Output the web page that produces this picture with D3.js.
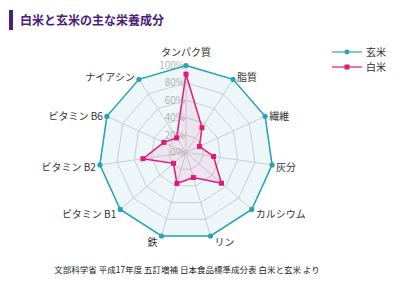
<!DOCTYPE html>
<html>
<head>
<meta charset="utf-8">
<script src="https://cdn.jsdelivr.net/npm/d3@7"></script>
<style>
  body { margin: 0; background: #fff; }
  svg { display: block; font-family: "Noto Sans CJK JP", "Noto Sans", sans-serif; }
</style>
</head>
<body>
<div id="chart"></div>
<script>
var width = 400;
var height = 289;

var axes = ["タンパク質", "脂質", "繊維", "灰分", "カルシウム", "リン", "鉄", "ビタミン B1", "ビタミン B2", "ビタミン B6", "ナイアシン"];
var genmai = [100, 100, 100, 100, 100, 100, 100, 100, 100, 100, 100];
var hakumai = [90, 34, 17, 32, 54, 30, 37, 19, 50, 28, 20];
var ticks = [0, 20, 40, 60, 80, 100];
var seriesNames = ["玄米", "白米"];

var cx = 186, cy = 152.5, R = 87;
var teal = "#27a3b9";
var pink = "#e0197b";

var svg = d3.select("#chart")
  .append("svg")
  .attr("width", width)
  .attr("height", height);

// title
svg.append("rect")
  .attr("x", 9).attr("y", 10)
  .attr("width", 4).attr("height", 20)
  .attr("fill", "#4b1d7d");
svg.append("text")
  .attr("x", 20).attr("y", 25)
  .attr("font-size", "12px")
  .attr("font-weight", "bold")
  .attr("fill", "#4b1d7d")
  .text("白米と玄米の主な栄養成分");

var r = d3.scaleLinear().domain([0, 100]).range([0, R]);
var angle = d3.scaleLinear().domain([0, axes.length]).range([0, 2 * Math.PI]);

var g = svg.append("g").attr("transform", "translate(" + cx + "," + cy + ")");

function px(i, v) { return r(v) * Math.sin(angle(i)); }
function py(i, v) { return -r(v) * Math.cos(angle(i)); }

var radial = d3.lineRadial()
  .angle(function(d, i) { return angle(i); })
  .radius(function(d) { return r(d); })
  .curve(d3.curveLinearClosed);

// 玄米 fill under grid
g.append("path")
  .attr("d", radial(genmai))
  .attr("fill", "#edf7f9");

// grid rings
ticks.slice(1).forEach(function(t) {
  g.append("path")
    .attr("d", radial(axes.map(function() { return t; })))
    .attr("fill", "none")
    .attr("stroke", "#c9cfd1")
    .attr("stroke-width", 1);
});

// spokes
g.selectAll(".spoke")
  .data(axes)
  .enter()
  .append("line")
    .attr("x1", 0).attr("y1", 0)
    .attr("x2", function(d, i) { return px(i, 100); })
    .attr("y2", function(d, i) { return py(i, 100); })
    .attr("stroke", "#c9cfd1")
    .attr("stroke-width", 1);

// 白米 area
g.append("path")
  .attr("d", radial(hakumai))
  .attr("fill", "rgba(224,25,123,0.08)")
  .attr("stroke", pink)
  .attr("stroke-width", 1.5);

// tick labels
g.selectAll(".tick")
  .data(ticks)
  .enter()
  .append("text")
    .attr("x", -1)
    .attr("y", function(d) { return -r(d); })
    .attr("dy", "0.35em")
    .attr("text-anchor", "end")
    .attr("font-size", "10px")
    .attr("fill", "rgba(150,150,150,0.75)")
    .text(function(d) { return d + "%"; });

// 玄米 outline
g.append("path")
  .attr("d", radial(genmai))
  .attr("fill", "none")
  .attr("stroke", teal)
  .attr("stroke-width", 1.5);

g.selectAll(".gm")
  .data(genmai)
  .enter()
  .append("circle")
    .attr("cx", function(d, i) { return px(i, d); })
    .attr("cy", function(d, i) { return py(i, d); })
    .attr("r", 2.6)
    .attr("fill", teal);

g.selectAll(".hm")
  .data(hakumai)
  .enter()
  .append("rect")
    .attr("x", function(d, i) { return px(i, d) - 2.5; })
    .attr("y", function(d, i) { return py(i, d) - 2.5; })
    .attr("width", 5)
    .attr("height", 5)
    .attr("fill", pink);

// axis labels
g.selectAll(".lab")
  .data(axes)
  .enter()
  .append("text")
    .attr("x", function(d, i) {
      var s = Math.sin(angle(i));
      if (Math.abs(s) < 0.1) return px(i, 100);
      return px(i, 100) + (s > 0 ? 4 : -4);
    })
    .attr("y", function(d, i) {
      var c = Math.cos(angle(i));
      if (c > 0.99) return py(i, 100) - 10;
      return py(i, 100) + 2 - 5 * c + 3.5;
    })
    .attr("text-anchor", function(d, i) {
      var s = Math.sin(angle(i));
      if (Math.abs(s) < 0.1) return "middle";
      return s > 0 ? "start" : "end";
    })
    .attr("font-size", "10px")
    .attr("fill", "#333")
    .text(function(d) { return d; });

// legend
var legend = svg.selectAll(".legend")
  .data(seriesNames)
  .enter()
  .append("g")
    .attr("transform", function(d, i) { return "translate(332," + (52 + i * 15) + ")"; });

legend.append("line")
  .attr("x1", 0).attr("x2", 30)
  .attr("y1", 0).attr("y2", 0)
  .attr("stroke", function(d, i) { return i == 0 ? teal : pink; })
  .attr("stroke-width", 1.2);

legend.append("rect")
  .attr("x", function(d, i) { return i == 0 ? 12.6 : 12.5; })
  .attr("y", function(d, i) { return i == 0 ? -2.4 : -2.5; })
  .attr("width", function(d, i) { return i == 0 ? 4.8 : 5; })
  .attr("height", function(d, i) { return i == 0 ? 4.8 : 5; })
  .attr("rx", function(d, i) { return i == 0 ? 2.4 : 0; })
  .attr("fill", function(d, i) { return i == 0 ? teal : pink; });

legend.append("text")
  .attr("x", 34)
  .attr("dy", "0.35em")
  .attr("font-size", "10px")
  .attr("fill", "#333")
  .text(function(d) { return d; });

// source
svg.append("text")
  .attr("x", 187).attr("y", 273)
  .attr("text-anchor", "middle")
  .attr("font-size", "8.5px")
  .attr("fill", "#222")
  .text("文部科学省 平成17年度 五訂増補 日本食品標準成分表 白米と玄米 より");
</script>
</body>
</html>
